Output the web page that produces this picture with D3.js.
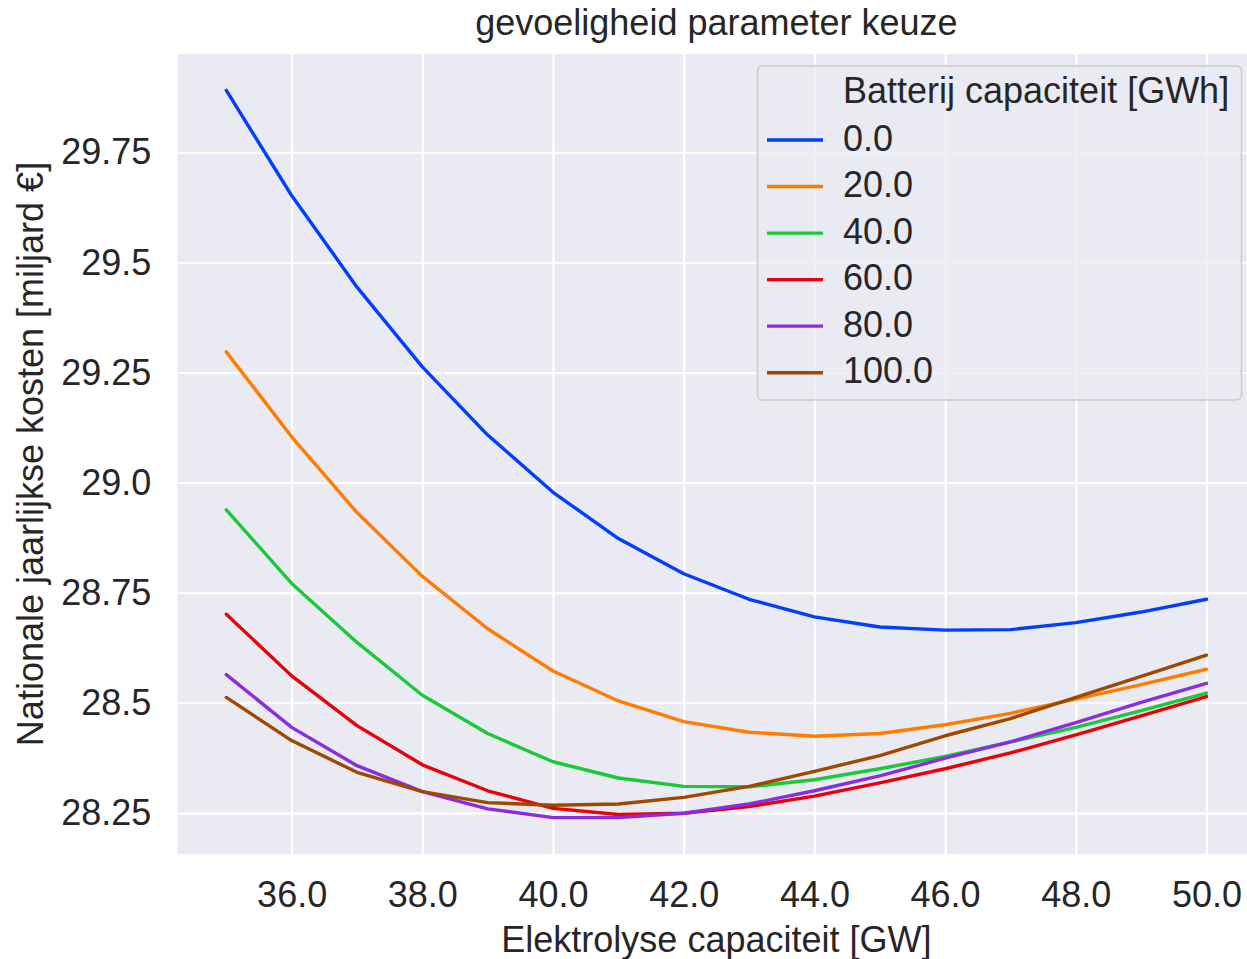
<!DOCTYPE html>
<html>
<head>
<meta charset="utf-8">
<script src="https://cdn.jsdelivr.net/npm/d3@7/dist/d3.min.js"></script>
<style>
  html, body { margin: 0; padding: 0; background: #ffffff; }
  svg { display: block; }
  text { font-family: "Liberation Sans", Arial, sans-serif; fill: #262626; }
</style>
</head>
<body>
<svg id="chart" width="1247" height="959"></svg>
<script>
// ---- data ----
const xValues = [35, 36, 37, 38, 39, 40, 41, 42, 43, 44, 45, 46, 47, 48, 49, 50];
const batteryLabels = ["0.0", "20.0", "40.0", "60.0", "80.0", "100.0"];
const colors = ["#023eff", "#ff7c00", "#1ac938", "#e8000b", "#8b2be2", "#9f4800"];
const cost0   = [29.891, 29.652, 29.444, 29.263, 29.108, 28.978, 28.873, 28.793, 28.735, 28.695, 28.672, 28.665, 28.666, 28.682, 28.706, 28.735];
const cost20  = [29.297, 29.104, 28.932, 28.787, 28.668, 28.572, 28.504, 28.457, 28.433, 28.424, 28.430, 28.450, 28.476, 28.508, 28.541, 28.576];
const cost40  = [28.938, 28.771, 28.637, 28.517, 28.430, 28.366, 28.329, 28.310, 28.309, 28.325, 28.350, 28.378, 28.411, 28.444, 28.482, 28.522];
const cost60  = [28.701, 28.561, 28.448, 28.359, 28.300, 28.260, 28.246, 28.249, 28.264, 28.288, 28.318, 28.350, 28.386, 28.427, 28.470, 28.514];
const cost80  = [28.564, 28.444, 28.357, 28.298, 28.259, 28.239, 28.239, 28.249, 28.270, 28.300, 28.334, 28.374, 28.411, 28.455, 28.501, 28.544];
const cost100 = [28.512, 28.414, 28.342, 28.298, 28.273, 28.267, 28.270, 28.285, 28.310, 28.344, 28.380, 28.425, 28.464, 28.512, 28.560, 28.608];
const seriesValues = [cost0, cost20, cost40, cost60, cost80, cost100];
const xTicks = [36, 38, 40, 42, 44, 46, 48, 50];
const xTickLabels = ["36.0", "38.0", "40.0", "42.0", "44.0", "46.0", "48.0", "50.0"];
const yTicks = [28.25, 28.5, 28.75, 29.0, 29.25, 29.5, 29.75];
const yTickLabels = ["28.25", "28.5", "28.75", "29.0", "29.25", "29.5", "29.75"];
const titleText = "gevoeligheid parameter keuze";
const xLabelText = "Elektrolyse capaciteit [GW]";
const yLabelText = "Nationale jaarlijkse kosten [miljard €]";
const legendTitle = "Batterij capaciteit [GWh]";

// ---- layout ----
const svg = d3.select("#chart");
const plot = { left: 177.3, right: 1255.5, top: 54, bottom: 854 };
const FS = 36;

const xMin = d3.min(xValues), xMax = d3.max(xValues);
const xPad = (xMax - xMin) * 0.05;
const allVals = seriesValues.flat();
const yMin = d3.min(allVals), yMax = d3.max(allVals);
const yPad = (yMax - yMin) * 0.05;

const x = d3.scaleLinear().domain([xMin - xPad, xMax + xPad]).range([plot.left, plot.right]);
const y = d3.scaleLinear().domain([yMin - yPad, yMax + yPad]).range([plot.bottom, plot.top]);

// background
svg.append("rect")
  .attr("x", plot.left).attr("y", plot.top)
  .attr("width", plot.right - plot.left).attr("height", plot.bottom - plot.top)
  .attr("fill", "#eaeaf2");

// grid via axes
const gx = svg.append("g")
  .attr("transform", `translate(0,${plot.bottom})`)
  .call(d3.axisBottom(x).tickValues(xTicks).tickSize(-(plot.bottom - plot.top)).tickPadding(27)
        .tickFormat((d, i) => xTickLabels[i]));
gx.select(".domain").remove();
gx.selectAll(".tick line").attr("stroke", "#ffffff").attr("stroke-width", 2.2);
gx.selectAll(".tick text").attr("font-size", FS).attr("fill", "#262626")
  .attr("font-family", "'Liberation Sans', Arial, sans-serif");

const gy = svg.append("g")
  .attr("transform", `translate(${plot.left},0)`)
  .call(d3.axisLeft(y).tickValues(yTicks).tickSize(-(plot.right - plot.left)).tickPadding(26)
        .tickFormat((d, i) => yTickLabels[i]));
gy.select(".domain").remove();
gy.selectAll(".tick line").attr("stroke", "#ffffff").attr("stroke-width", 2.2);
gy.selectAll(".tick text").attr("font-size", FS).attr("fill", "#262626")
  .attr("font-family", "'Liberation Sans', Arial, sans-serif");

// lines
const line = d3.line().x((d, i) => x(xValues[i])).y(d => y(d));
const clip = svg.append("clipPath").attr("id", "clip").append("rect")
  .attr("x", plot.left).attr("y", plot.top)
  .attr("width", plot.right - plot.left).attr("height", plot.bottom - plot.top);
const lines = svg.append("g").attr("clip-path", "url(#clip)");
seriesValues.forEach((vals, k) => {
  lines.append("path")
    .datum(vals)
    .attr("d", line)
    .attr("fill", "none")
    .attr("stroke", colors[k])
    .attr("stroke-width", 3.4)
    .attr("stroke-linejoin", "round")
    .attr("stroke-linecap", "round");
});

// title
const cx = (plot.left + plot.right) / 2;
svg.append("text").attr("x", cx).attr("y", 35).attr("text-anchor", "middle")
  .attr("font-size", FS).text(titleText);

// axis labels
svg.append("text").attr("x", cx).attr("y", 952).attr("text-anchor", "middle")
  .attr("font-size", FS).text(xLabelText);
svg.append("text")
  .attr("transform", `translate(43,${(plot.top + plot.bottom) / 2}) rotate(-90)`)
  .attr("text-anchor", "middle")
  .attr("font-size", FS).text(yLabelText);

// legend
const lg = svg.append("g");
lg.append("rect")
  .attr("x", 757.5).attr("y", 66).attr("width", 484).attr("height", 334)
  .attr("rx", 5).attr("ry", 5)
  .attr("fill", "#eaeaf2").attr("fill-opacity", 0.8)
  .attr("stroke", "#cccccc").attr("stroke-width", 1.5);
lg.append("text").attr("x", 843).attr("y", 103).attr("font-size", FS).text(legendTitle);
const rowY = d3.scaleLinear().domain([0, 5]).range([140, 372.7]);
batteryLabels.forEach((lab, k) => {
  const ry = rowY(k);
  lg.append("line").attr("x1", 767).attr("x2", 823).attr("y1", ry).attr("y2", ry)
    .attr("stroke", colors[k]).attr("stroke-width", 3.4);
  lg.append("text").attr("x", 843).attr("y", ry + 10.5).attr("font-size", FS).text(lab);
});
</script>
</body>
</html>
